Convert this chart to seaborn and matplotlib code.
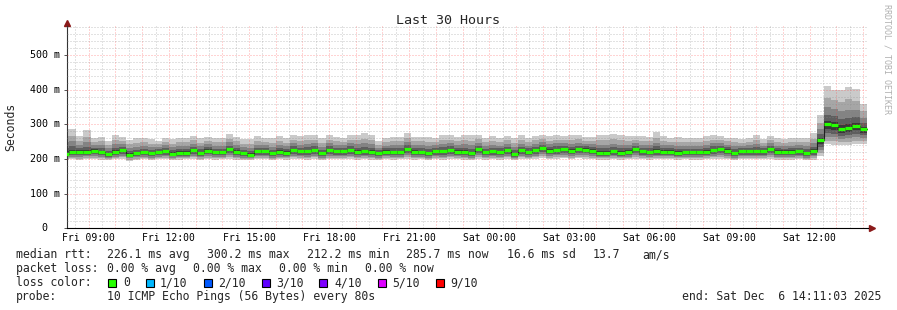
import numpy as np
import pandas as pd
import matplotlib
matplotlib.use("Agg")
import matplotlib.pyplot as plt
import seaborn as sns
from matplotlib.patches import Rectangle

# ---------------- data ----------------
bin_minutes = 16
first_bin_start_h = 8.0          # Fri 08:00, hours since Fri 00:00
x_start_h = 8 + 11.05 / 60       # Fri 08:11:03
x_end_h = 38 + 11.05 / 60        # Sat 14:11:03

median_ms = [
    215, 220, 220, 220, 224, 220, 214, 220, 226, 212.2, 216, 219, 216, 219, 222, 215, 218, 218, 226, 217,
    224, 219, 219, 228, 221, 216, 213, 222, 222, 216, 220, 218, 226, 222, 222, 226, 216, 226, 222,
    222, 226, 220, 222, 220, 216, 221, 220, 220, 228, 221, 220, 216, 222, 222, 226, 221, 221,
    216, 229, 219, 222, 220, 225, 214, 225, 220, 226, 232, 224, 226, 229, 224, 229, 227, 224, 218,
    218, 222, 218, 220, 229, 222, 220, 222, 221, 221, 218, 220, 219, 219, 221, 226, 229, 224, 216,
    222, 222, 222, 222, 228, 221, 221, 221, 222, 216, 223, 254, 300.2, 297, 286, 289, 294, 285.7,
]
max_ms = [
    288, 288, 266, 283, 260, 264, 253, 269, 264, 255, 260, 260, 257, 253, 260, 257, 262, 262, 266, 260,
    264, 260, 260, 272, 264, 257, 257, 266, 260, 260, 266, 260, 269, 266, 269, 269, 260, 269, 264,
    260, 269, 269, 274, 269, 253, 260, 264, 264, 276, 264, 264, 264, 260, 269, 269, 264, 269,
    269, 269, 262, 266, 262, 266, 260, 269, 262, 266, 269, 266, 269, 266, 269, 269, 264, 264, 269,
    269, 272, 269, 266, 266, 266, 264, 279, 266, 262, 264, 260, 260, 262, 266, 269, 266, 262, 262,
    258, 262, 270, 258, 266, 260, 258, 260, 262, 262, 274, 327, 410, 400, 400, 408, 401, 360,
]
min_ms = [
    198, 199, 197, 200, 199, 198, 196, 199, 200, 195, 198, 199, 197, 199, 200, 197, 198, 199, 200, 198,
    199, 198, 199, 200, 198, 197, 196, 199, 200, 197, 199, 198, 200, 199, 198, 200, 197, 199, 199,
    199, 200, 198, 199, 198, 196, 199, 198, 199, 200, 198, 199, 197, 199, 198, 200, 199, 198,
    197, 200, 198, 199, 198, 200, 196, 200, 199, 200, 202, 200, 201, 202, 200, 202, 201, 200, 198,
    198, 199, 198, 199, 201, 199, 198, 199, 199, 199, 198, 199, 198, 198, 199, 200, 201, 199, 197,
    199, 199, 199, 199, 200, 198, 198, 198, 199, 196, 198, 210, 242, 241, 240, 241, 243, 244,
]
# typical position of the inner pings between min..median and median..max
lower_frac = [0.82, 0.62, 0.42, 0.22]
upper_frac = [0.10, 0.25, 0.45, 0.70]
smoke_colors = ["#cacaca", "#a6a6a6", "#838383", "#5e5e5e", "#383838"]

x_tick_hours = [9, 12, 15, 18, 21, 24, 27, 30, 33, 36]
x_tick_labels = ["Fri 09:00", "Fri 12:00", "Fri 15:00", "Fri 18:00", "Fri 21:00",
                 "Sat 00:00", "Sat 03:00", "Sat 06:00", "Sat 09:00", "Sat 12:00"]
y_ticks = [0, 100, 200, 300, 400, 500]
y_tick_labels = ["0", "100 m", "200 m", "300 m", "400 m", "500 m"]
y_max = 584

loss_labels = ["0", "1/10", "2/10", "3/10", "4/10", "5/10", "9/10"]
loss_colors = ["#26ff00", "#00b8ff", "#0059ff", "#5e00ff", "#7e00ff", "#dd00ff", "#ff0000"]

rtt_items = ["median rtt:", "226.1 ms avg", "300.2 ms max", "212.2 ms min",
             "285.7 ms now", "16.6 ms sd", "13.7", "am/s"]
loss_items = ["packet loss:", "0.00 % avg", "0.00 % max", "0.00 % min", "0.00 % now"]
probe_text = "10 ICMP Echo Pings (56 Bytes) every 80s"
end_text = "end: Sat Dec  6 14:11:03 2025"

# ---------------- figure ----------------
sns.set_theme(style="white")
plt.rcParams["font.family"] = ["DejaVu Sans Mono"]

W, H = 897, 310
fig = plt.figure(figsize=(W / 100, H / 100), dpi=100)
fig.patch.set_facecolor("white")
ax_l, ax_r, ax_t, ax_b = 67, 868, 26, 228.3
ax = fig.add_axes([ax_l / W, 1 - ax_b / H, (ax_r - ax_l) / W, (ax_b - ax_t) / H])
ax.set_facecolor("white")

n = len(median_ms)
bw = bin_minutes / 60
starts = first_bin_start_h + np.arange(n) * bw
med = np.array(median_ms, float)
lo = np.array(min_ms, float)
hi = np.array(max_ms, float)

pings = [lo]
for f in lower_frac:
    pings.append(med - f * (med - lo))
for g in upper_frac:
    pings.append(med + g * (hi - med))
pings.append(hi)
band_color_idx = [0, 1, 2, 3, 4, 3, 2, 1, 0]
for k in range(9):
    ax.bar(starts, pings[k + 1] - pings[k], width=bw, bottom=pings[k], align="edge",
           color=smoke_colors[band_color_idx[k]], linewidth=0, antialiased=False, zorder=2)

# median: dark step line + green loss-colour segments
df = pd.DataFrame({"t": np.append(starts, starts[-1] + bw), "ms": np.append(med, med[-1])})
sns.lineplot(data=df, x="t", y="ms", drawstyle="steps-post", color="#202020",
             linewidth=0.8, estimator=None, ax=ax, zorder=4)
ax.hlines(med, starts, starts + bw, color=loss_colors[0], linewidth=2.3, zorder=5)

# grid (drawn over the smoke, like rrdtool)
gray = (0.55, 0.55, 0.55, 0.5)
red = (1.0, 0.25, 0.25, 0.45)
dot = (0, (1, 2))
for h in np.arange(8.5, 38.6, 1.0):
    ax.axvline(h, color=gray, lw=0.72, ls=dot, zorder=3)
for h in range(9, 39):
    ax.axvline(h, color=red, lw=0.72, ls=dot, zorder=3)
for v in range(20, y_max, 20):
    if v % 100:
        ax.axhline(v, color=gray, lw=0.72, ls=dot, zorder=3)
for v in range(100, y_max, 100):
    ax.axhline(v, color=red, lw=0.72, ls=dot, zorder=3)

ax.set_xlim(x_start_h, x_end_h)
ax.set_ylim(0, y_max)
ax.set_xlabel("")
ax.set_ylabel("")

ax.set_xticks(x_tick_hours)
ax.set_xticklabels(x_tick_labels, fontsize=7)
ax.tick_params(axis="x", length=2, width=0.7, pad=1.5, color="#555555", labelcolor="black")
ax.set_yticks(y_ticks)
ax.set_yticklabels([])
ax.tick_params(axis="y", length=2.5, width=0.7, color="#555555", left=True)
ytr = ax.get_yaxis_transform()
axw = ax_r - ax_l
for v, lab in zip(y_ticks, y_tick_labels):
    xr = 47 if lab == "0" else 60
    ax.text((xr - ax_l) / axw, v, lab, transform=ytr, ha="right", va="center",
            fontsize=7.2, color="black", clip_on=False)

for s in ["top", "right"]:
    ax.spines[s].set_visible(False)
ax.spines["left"].set_color("#333333")
ax.spines["bottom"].set_color("black")
ax.spines["left"].set_linewidth(0.8)
ax.spines["bottom"].set_linewidth(0.8)

# axis arrows
axh = ax_b - ax_t
ax.plot([1, 1 + 6 / axw], [0, 0], transform=ax.transAxes, color="black", lw=0.8, clip_on=False)
ax.plot([1 + 3.5 / axw], [0], transform=ax.transAxes, marker=">", ms=4, color="#8b1a1a",
        mec="#8b1a1a", clip_on=False)
ax.plot([0, 0], [1, 1 + 5 / axh], transform=ax.transAxes, color="#333333", lw=0.8, clip_on=False)
ax.plot([0], [1 + 3 / axh], transform=ax.transAxes, marker="^", ms=4, color="#8b1a1a",
        mec="#8b1a1a", clip_on=False)

# texts
def ftxt(x, y, s, **kw):
    kw.setdefault("fontsize", 8.3)
    kw.setdefault("va", "center")
    kw.setdefault("ha", "left")
    fig.text(x / W, 1 - y / H, s, **kw)

ftxt(448, 20, "Last 30 Hours", ha="center", fontsize=9.6)
ftxt(11, 127, "Seconds", ha="center", rotation=90, fontsize=8.3)
ftxt(887, 4, "RRDTOOL / TOBI OETIKER", ha="center", va="top", rotation=270,
     fontsize=6, color="#b0b0b0")

rtt_x = [16, 107, 207, 307, 406, 507, 593, 642]
for xx, s in zip(rtt_x, rtt_items):
    ftxt(xx, 254.5, s)
loss_x = [16, 107, 193, 279, 365]
for xx, s in zip(loss_x, loss_items):
    ftxt(xx, 268.5, s)
ftxt(16, 282.5, "loss color:")
box_x = [108, 146, 204, 262, 319, 378, 436]
lab_x = [123, 160, 218, 276, 334, 392, 450]
for bx, lx, c, s in zip(box_x, lab_x, loss_colors, loss_labels):
    fig.patches.append(Rectangle((bx / W, 1 - 287 / H), 8 / W, 8 / H, transform=fig.transFigure,
                                 facecolor=c, edgecolor="black", linewidth=0.8))
    ftxt(lx, 282.5, s)
ftxt(16, 296.5, "probe:")
ftxt(107, 296.5, probe_text)
ftxt(881, 296.5, end_text, ha="right")

fig.savefig("out.png", dpi=100, facecolor="white")
